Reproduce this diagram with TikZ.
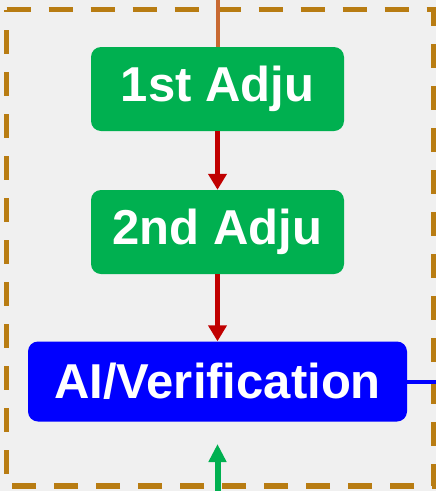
\documentclass[tikz,border=0pt]{standalone}
\usepackage{fontspec}
\setmainfont{Liberation Sans}
\usetikzlibrary{arrows.meta}

\definecolor{bggrey}{RGB}{240,240,240}
\definecolor{frameGold}{RGB}{184,124,18}
\definecolor{feedOrange}{RGB}{200,105,50}
\definecolor{adjGreen}{RGB}{0,176,80}
\definecolor{flowRed}{RGB}{192,0,0}
\definecolor{verBlue}{RGB}{0,0,255}

\tikzset{
  stagebox/.style={rounded corners=10pt, text=white, inner sep=0pt,
    font=\fontsize{49}{49}\selectfont\bfseries},
  adjbox/.style={stagebox, fill=adjGreen, minimum width=253pt, minimum height=84pt},
  verbox/.style={stagebox, fill=verBlue, minimum width=379pt, minimum height=80pt},
  groupframe/.style={draw=frameGold, line width=5.5pt, dash pattern=on 24pt off 18pt},
  flowarrow/.style={draw=flowRed, line width=5pt, -{Triangle[width=18pt,length=16pt]}},
  feedline/.style={draw=feedOrange, line width=4pt},
  outline/.style={draw=verBlue, line width=4pt},
  inarrow/.style={draw=adjGreen, line width=6pt, -{Triangle[width=17pt,length=18pt]}}
}

\begin{document}
\begin{tikzpicture}[x=1pt,y=-1pt]
  % canvas
  \fill[bggrey] (0,0) rectangle (436,491);
  \useasboundingbox (0,0) rectangle (436,491);

  % dashed group frame
  \draw[groupframe] (6.5,9.5) -- (434,9.5) -- (434,486) -- (6.5,486) -- cycle;

  % stages
  \node[adjbox] (adj1) at (217.5,89) {1st Adju};
  \node[adjbox] (adj2) at (217.5,232) {2nd Adju};
  \node[verbox] (ver) at (217.5,381.5) {AI/Verification};

  % outside ends
  \coordinate (feedtop) at (217.5,0);
  \coordinate (outright) at (436,381.5);
  \coordinate (inbottom) at (217.5,491);
  \coordinate (intip) at (217.5,444);

  % connectors
  \draw[feedline] (feedtop) -- (adj1.north);
  \draw[flowarrow] (adj1.south) -- (adj2.north);
  \draw[flowarrow] (adj2.south) -- (ver.north);
  \draw[outline] (ver.east) -- (outright);
  \draw[inarrow] (inbottom) -- (intip);
\end{tikzpicture}
\end{document}
